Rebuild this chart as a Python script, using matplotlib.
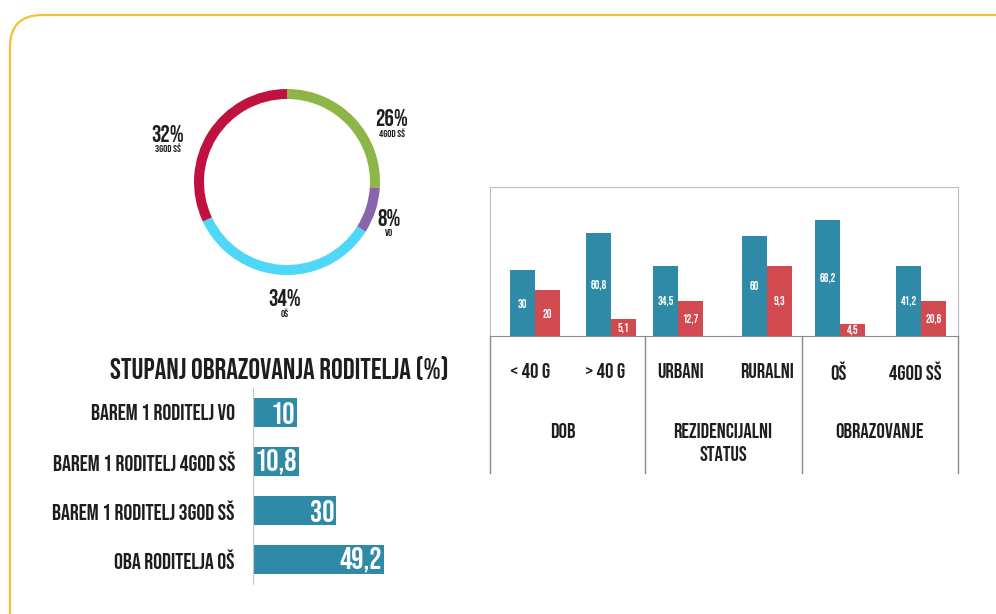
import matplotlib
matplotlib.use("Agg")
import matplotlib.pyplot as plt
from matplotlib.patches import FancyBboxPatch
from matplotlib.lines import Line2D
import numpy as np

# donut data: share of parents' education
donut_pct = [26, 8, 34, 32]
donut_pct_labels = ["26%", "8%", "34%", "32%"]
donut_names = ["4GOD SŠ", "VO", "OŠ", "3GOD SŠ"]
donut_colors = ["#8db646", "#8a63ad", "#4fd7f7", "#c0113f"]

# horizontal bars: stupanj obrazovanja roditelja (%)
hbar_cats = ["BAREM 1 RODITELJ VO", "BAREM 1 RODITELJ 4GOD SŠ",
             "BAREM 1 RODITELJ 3GOD SŠ", "OBA RODITELJA OŠ"]
hbar_len = [16.5, 17.3, 31.2, 49.2]          # bar length as drawn
hbar_text = ["10", "10,8", "30", "49,2"]

# grouped bars
sub_cats = ["< 40 G", "> 40 G", "URBANI", "RURALNI", "OŠ", "4GOD SŠ"]
group_names = ["DOB", "REZIDENCIJALNI\nSTATUS", "OBRAZOVANJE"]
blue_vals = [30, 46.8, 31.8, 45.5, 52.7, 31.8]   # heights as drawn
red_vals = [20.9, 7.7, 15.9, 31.8, 5.5, 15.9]
blue_text = ["30", "60,8", "34,5", "60", "68,2", "41,2"]
red_text = ["20", "5,1", "12,7", "9,3", "4,5", "20,6"]

BLUE = "#2e8aa7"
RED = "#d04a50"
DARK = "#1e1e1e"
plt.rcParams["font.family"] = ["Bebas Neue", "DejaVu Sans"]

W, H = 996, 614
fig = plt.figure(figsize=(W / 100, H / 100), dpi=100)

def px_axes(x0, y0, x1, y1):
    # axes from pixel box (top-left origin)
    return fig.add_axes([x0 / W, 1 - y1 / H, (x1 - x0) / W, (y1 - y0) / H])

# background layer in pixel coords
bg = fig.add_axes([0, 0, 1, 1], zorder=0)
bg.set_xlim(0, W)
bg.set_ylim(H, 0)
bg.axis("off")
bg.add_patch(FancyBboxPatch((10, 15), 1100, 700,
                            boxstyle="round,pad=0,rounding_size=32",
                            fc="white", ec="#f1c232", lw=1.6))

# ---- donut ----
ax = px_axes(187, 82, 387, 282)
ax.set_zorder(2)
ax.pie(donut_pct, colors=donut_colors, startangle=90, counterclock=False,
       radius=0.93, wedgeprops=dict(width=0.1, linewidth=0))
ax.set_xlim(-1, 1)
ax.set_ylim(-1, 1)
ax.set_aspect("auto")
ax.axis("off")

donut_lbl_pos = [(392, 118), (389, 218), (285, 298), (168, 133)]
for (x, y), p, n in zip(donut_lbl_pos, donut_pct_labels, donut_names):
    bg.text(x, y, p, ha="center", va="center", fontsize=17, color=DARK)
    bg.text(x, y + 15, n, ha="center", va="center", fontsize=7.5, color=DARK)

# ---- horizontal bars ----
bg.text(279, 368, "STUPANJ OBRAZOVANJA RODITELJA (%)", ha="center",
        va="center", fontsize=21, color=DARK)
hx = px_axes(253, 388, 453, 584)
hx.set_zorder(2)
hx.patch.set_alpha(0)
ypos = np.arange(len(hbar_cats))
hx.barh(ypos, hbar_len, height=0.6, color=BLUE)
hx.set_xlim(0, 200 / 2.66)
hx.set_ylim(3.5, -0.5)
for s in ["top", "right", "bottom"]:
    hx.spines[s].set_visible(False)
hx.spines["left"].set_color("#c8c8c8")
hx.set_xticks([])
hx.set_yticks(ypos)
hx.set_yticklabels(hbar_cats, fontsize=16, color=DARK)
hx.tick_params(axis="y", length=0, pad=13)
for y, v, t in zip(ypos, hbar_len, hbar_text):
    hx.text(v - 0.6, y, t, ha="right", va="center", color="white",
            fontsize=22)

# ---- grouped vertical bars ----
gx_pos = [535, 611, 678, 767, 840, 921]
bw = 25
vx = px_axes(490, 187, 958, 336)
vx.set_zorder(2)
vx.patch.set_alpha(0)
vx.bar(np.array(gx_pos) - bw / 2, blue_vals, width=bw, color=BLUE)
vx.bar(np.array(gx_pos) + bw / 2, red_vals, width=bw, color=RED)
vx.set_xlim(490, 958)
vx.set_ylim(0, 149 / 2.2)
vx.set_xticks([])
vx.set_yticks([])
for s in ["top", "left", "right"]:
    vx.spines[s].set_color("#bdbdbd")
vx.spines["bottom"].set_color("#8a8a8a")
for x, b, r, bt, rt in zip(gx_pos, blue_vals, red_vals, blue_text, red_text):
    vx.text(x - bw / 2, b / 2, bt, ha="center", va="center", color="white",
            fontsize=8.5)
    vx.text(x + bw / 2, r / 2, rt, ha="center", va="center", color="white",
            fontsize=8.5)

# table lines below the bars
for x in [490, 645, 802, 958]:
    bg.add_line(Line2D([x, x], [336, 473], color="#8a8a8a", lw=1))

sub_x = [530, 605, 681, 767, 838, 915]
for x, c in zip(sub_x, sub_cats):
    bg.text(x, 371, c, ha="center", va="center", fontsize=15, color=DARK)
for x, g in zip([563, 723, 880], group_names):
    bg.text(x, 423, g, ha="center", va="top", fontsize=15,
            color=DARK, linespacing=1.55)

fig.savefig("out.png", dpi=100)
